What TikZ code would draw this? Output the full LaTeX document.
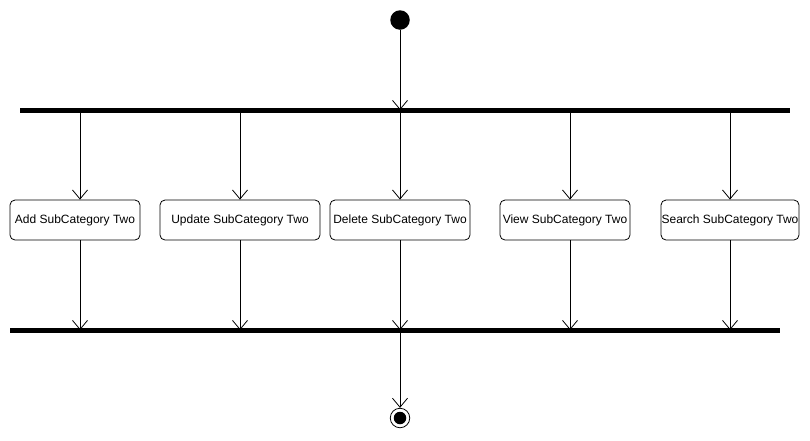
\documentclass[tikz,border=0pt]{standalone}
\usepackage{fontspec}
\setmainfont{Liberation Sans}
\usetikzlibrary{arrows.meta}
\begin{document}
\begin{tikzpicture}[x=1pt,y=-1pt,
  act/.style={draw, line width=0.8pt, rounded corners=5pt, minimum height=40pt, inner sep=0pt, font=\fontsize{12}{14}\selectfont, anchor=center},
  bar/.style={fill=black, draw=none, minimum height=5pt, inner sep=0pt},
  flow/.style={line width=0.8pt, -{Straight Barb[length=9pt,width=15pt,line width=0.8pt]}},
  plain/.style={line width=0.8pt}]
\useasboundingbox (0,0) rectangle (810,440);
% start
\node[circle, fill=black, minimum size=19.5pt, inner sep=0pt] (start) at (400,20) {};
% bars
\node[bar, minimum width=770pt] (fork) at (405,110) {};
\node[bar, minimum width=770pt] (join) at (395,330) {};
% activities
\node[act, minimum width=130pt] (a1) at (75,220) {Add SubCategory Two};
\node[act, minimum width=160pt] (a2) at (240,220) {Update SubCategory Two};
\node[act, minimum width=140pt] (a3) at (400,220) {Delete SubCategory Two};
\node[act, minimum width=130pt] (a4) at (565,220) {View SubCategory Two};
\node[act, minimum width=138pt] (a5) at (730,220) {Search SubCategory Two};
% end
\node[circle, draw, line width=0.8pt, minimum size=19.5pt, inner sep=0pt] (stop) at (400,418) {};
\node[circle, fill=black, minimum size=12.5pt, inner sep=0pt] (stopin) at (stop.center) {};
% coordinates on bars
\foreach \i/\x in {1/80,2/240,3/400,4/570,5/730}{
  \coordinate (t\i) at (\x,110);
  \coordinate (j\i) at (\x,330);
}
\coordinate (fin) at (400,330);
% connectors
\draw[flow] (start) -- (t3);
\foreach \i in {1,...,5}{
  \draw[flow] (t\i) -- (a\i.north -| t\i);
  \draw[flow] (a\i.south -| t\i) -- (j\i);
}
\draw[flow] (fin) -- (stop.north);
\end{tikzpicture}
\end{document}
